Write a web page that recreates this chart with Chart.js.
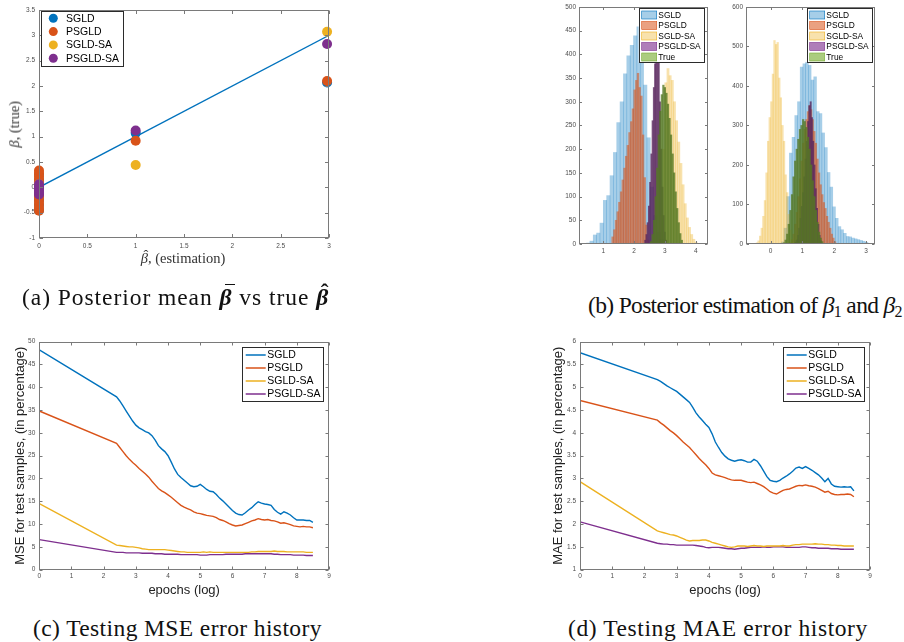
<!DOCTYPE html>
<html><head><meta charset="utf-8">
<script src="https://cdn.jsdelivr.net/npm/chart.js@4.4.1/dist/chart.umd.min.js"></script>
<style>
html,body{margin:0;padding:0;background:#fff;}
body{width:904px;height:642px;position:relative;overflow:hidden;}
canvas{position:absolute;}
.cap{position:absolute;font-family:"Liberation Serif","DejaVu Serif",serif;font-size:23.5px;color:#111;white-space:nowrap;line-height:1.15;}
.cap sub{font-size:68%;vertical-align:-0.22em;line-height:0;}
.acc{position:relative;display:inline-block;}
.acc .bar{position:absolute;left:0.24em;top:0.04em;width:0.42em;border-top:0.07em solid #111;}
.acc .hat{position:absolute;left:0.2em;top:-0.2em;font-style:normal;font-weight:normal;}
.atitle{position:absolute;font-family:"Liberation Serif","DejaVu Serif",serif;font-size:14.5px;color:#333;white-space:nowrap;line-height:1;}
</style></head><body>
<canvas id="ca" width="345" height="275" style="left:0px;top:0px"></canvas>
<canvas id="cbl" width="160" height="265" style="left:555px;top:0px"></canvas>
<canvas id="cbr" width="165" height="265" style="left:720px;top:0px"></canvas>
<canvas id="cc" width="345" height="285" style="left:0px;top:330px"></canvas>
<canvas id="cd" width="346" height="285" style="left:540px;top:330px"></canvas>
<div class="atitle" id="axt" data-cx="183" data-cy="258"><span class="acc"><i>β</i><span class="hat">ˆ</span></span>, (estimation)</div>
<div class="atitle" id="ayt" data-cx="14" data-cy="124" data-rot="1"><i>β</i>, (true)</div>
<div class="cap" data-x="22" data-w="308" data-cy="297">(a) Posterior mean <span class="acc"><b><i>β</i></b><span class="bar"></span></span> vs true <span class="acc"><b><i>β</i></b><span class="hat"><b>ˆ</b></span></span></div>
<div class="cap" data-x="588" data-w="314" data-cy="305">(b) Posterior estimation of <i>β</i><sub>1</sub> and <i>β</i><sub>2</sub></div>
<div class="cap" data-x="33" data-w="289" data-cy="628">(c) Testing MSE error history</div>
<div class="cap" data-x="568" data-w="300" data-cy="628">(d) Testing MAE error history</div>
<script>
// ---------------- DATA ----------------
const seriesNames = ['SGLD', 'PSGLD', 'SGLD-SA', 'PSGLD-SA'];
const histNames = ['SGLD', 'PSGLD', 'SGLD-SA', 'PSGLD-SA', 'True'];

// (a) posterior mean vs true
const aSGLDx = [0,0,0,0,0,0,0,0,1.0,2.98];
const aSGLDy = [-0.45,-0.35,-0.25,-0.15,-0.05,0.05,0.15,0.25,1.07,2.07];
const aPSGLDx = [0,0,0,0,0,0,0,0,0,0,0,0,0,0,1.0,2.98];
const aPSGLDy = [-0.46,-0.40,-0.33,-0.27,-0.20,-0.14,-0.08,-0.02,0.04,0.10,0.16,0.22,0.28,0.33,0.92,2.10];
const aSGLDSAx = [0,0,0,1.0,2.98];
const aSGLDSAy = [-0.08,0,0.06,0.44,3.07];
const aPSGLDSAx = [0,0,0,0,0,0,1.0,2.98];
const aPSGLDSAy = [-0.14,-0.10,-0.06,-0.02,0.02,0.06,1.12,2.83];
const aDiagX = [0,3];
const aDiagY = [0,3];
const aXTicks = [0,0.5,1,1.5,2,2.5,3];
const aYTicks = [-1,-0.5,0,0.5,1,1.5,2,2.5,3,3.5];

// (b) histograms of beta1 (left) and beta2 (right): bin centres and counts
const b1SGLDx = [0.508,0.617,0.726,0.835,0.944,1.053,1.162,1.271,1.380,1.489,1.598,1.707,1.816,1.925,2.034,2.143,2.252,2.361,2.470,2.579,2.688,2.797,2.906];
const b1SGLDy = [2,6,19,23,44,92,102,144,193,256,300,359,397,419,439,458,420,335,224,120,60,25,10];
const b1PSGLDx = [1.30,1.355,1.41,1.465,1.52,1.575,1.63,1.685,1.74,1.795,1.85,1.905,1.96,2.015,2.07,2.125,2.18,2.235,2.29,2.345,2.40,2.455];
const b1PSGLDy = [15,30,50,68,88,110,135,160,185,208,235,258,285,325,345,360,330,312,230,140,40,8];
const b1SGLDSAx = [2.82,2.89,2.96,3.03,3.10,3.17,3.24,3.31,3.38,3.45,3.52,3.59,3.66,3.73,3.80,3.87,3.94,4.01];
const b1SGLDSAy = [10,60,200,340,370,355,345,300,260,215,170,125,85,55,35,20,10,4];
const b1PSGLDSAx = [2.36,2.40,2.44,2.48,2.52,2.56,2.60,2.64,2.68,2.72,2.76,2.80,2.84,2.88,2.92,2.96,3.00,3.04];
const b1PSGLDSAy = [8,20,45,80,130,190,260,330,380,420,440,390,300,200,120,60,25,8];
const b1TrueX = [2.55,2.60,2.65,2.70,2.75,2.80,2.85,2.90,2.95,3.00,3.05,3.10,3.15,3.20,3.25,3.30,3.35,3.40,3.45,3.50,3.55];
const b1TrueY = [5,20,50,100,160,230,280,315,335,330,318,295,265,230,190,150,110,75,45,22,8];
const b1XTicks = [1,2,3,4];
const b1YTicks = [0,50,100,150,200,250,300,350,400,450,500];

const b2SGLDx = [0.38,0.465,0.55,0.635,0.72,0.805,0.89,0.975,1.06,1.145,1.23,1.315,1.40,1.485,1.57,1.655,1.74,1.825,1.91,1.995,2.08,2.165,2.25,2.335,2.42,2.505,2.59,2.675,2.76,2.845,2.93,3.015];
const b2SGLDy = [5,40,120,230,270,325,360,448,456,460,452,415,423,335,330,281,244,181,144,94,65,44,36,27,19,18,15,13,11,9,7,4];
const b2PSGLDx = [0.625,0.675,0.725,0.775,0.825,0.875,0.925,0.975,1.025,1.075,1.125,1.175,1.225,1.275,1.325,1.375,1.425,1.475,1.525,1.575,1.625,1.675,1.725,1.775,1.825,1.875,1.925,1.975,2.025];
const b2PSGLDy = [3,10,25,50,80,120,165,210,255,290,315,335,350,340,315,285,255,215,180,150,125,105,90,70,55,40,25,15,6];
const b2SGLDSAx = [-0.425,-0.375,-0.325,-0.275,-0.225,-0.175,-0.125,-0.075,-0.025,0.025,0.075,0.125,0.175,0.225,0.275,0.325,0.375,0.425,0.475,0.525,0.575,0.625,0.675,0.725];
const b2SGLDSAy = [3,8,20,40,70,110,180,260,320,360,430,515,505,510,420,370,300,260,175,130,75,35,12,4];
const b2PSGLDSAx = [0.78,0.82,0.86,0.90,0.94,0.98,1.02,1.06,1.10,1.14,1.18,1.22,1.26,1.30,1.34,1.38,1.42,1.46,1.50,1.54,1.58];
const b2PSGLDSAy = [4,10,22,40,65,95,130,170,215,260,310,350,360,320,260,200,140,90,50,22,8];
const b2TrueX = [0.425,0.475,0.525,0.575,0.625,0.675,0.725,0.775,0.825,0.875,0.925,0.975,1.025,1.075,1.125,1.175,1.225,1.275,1.325,1.375,1.425,1.475,1.525,1.575,1.625];
const b2TrueY = [3,10,25,50,85,125,170,210,240,265,290,300,315,310,295,270,240,200,160,120,85,55,30,15,6];
const b2XTicks = [0,1,2,3];
const b2YTicks = [0,100,200,300,400,500,600];

// (c),(d) error histories vs log epochs
const epochs = [0,2.4,2.5,2.6,2.7,2.8,2.9,3.0,3.1,3.2,3.3,3.4,3.5,3.6,3.7,3.8,3.9,4.0,4.1,4.2,4.3,4.4,4.5,4.6,4.7,4.8,4.9,5.0,5.1,5.2,5.3,5.4,5.5,5.6,5.7,5.8,5.9,6.0,6.1,6.2,6.3,6.4,6.5,6.6,6.7,6.8,6.9,7.0,7.1,7.2,7.3,7.4,7.5,7.6,7.7,7.8,7.9,8.0,8.1,8.2,8.3,8.4,8.5];
const mseSGLD = [48.2, 37.9,37.0,35.9,34.8,33.7,32.6,31.7, 31.1,30.7,30.3,30.0,29.4,28.4,27.2,26.5,25.9,25.0, 23.6,22.1,20.9,20.2,19.6,19.0,18.4,18.2,18.3,18.7, 18.2,17.6,17.2,17.1,16.5,15.7,15.1,14.4,13.7,13.0, 12.4,12.1,12.0,12.5,13.1,13.6,14.3,14.9,14.6,14.4, 14.3,14.1,13.2,12.6,12.2,12.7,12.4,12.0,11.4,10.9, 10.9,10.9,10.8,10.8,10.4];
const msePSGLD = [34.8, 27.7,26.8,25.9,25.0,24.2,23.5,22.9, 22.2,21.6,21.0,20.3,19.4,18.6,17.8,17.3,16.9,16.4, 15.9,15.3,14.7,14.1,13.7,13.4,13.1,12.7,12.4,12.3, 12.1,11.9,11.8,11.7,11.4,11.0,10.8,10.5,10.1,9.8, 9.6,9.7,9.8,10.1,10.4,10.7,10.9,11.2,11.0,10.9, 11.0,10.8,10.7,10.5,10.2,10.3,10.1,9.9,9.6,9.5, 9.4,9.5,9.4,9.4,9.2];
const mseSGLDSA = [14.5, 5.4,5.3,5.2,5.1,5.0,5.0,4.9, 4.8,4.6,4.5,4.4,4.4,4.4,4.4,4.4,4.4,4.3, 4.2,4.1,4.0,3.9,3.9,3.8,3.8,3.8,3.8,3.8, 3.9,3.8,3.9,3.8,3.8,3.8,3.8,3.8,3.8,3.8, 3.8,3.8,3.8,3.8,3.8,3.9,3.9,4.0,4.0,4.0, 4.0,4.0,4.1,4.0,4.0,4.0,3.9,3.9,3.9,3.9, 3.9,3.9,3.8,3.8,3.8];
const msePSGLDSA = [6.6, 3.8,3.8,3.8,3.7,3.7,3.7,3.7, 3.7,3.6,3.6,3.6,3.6,3.5,3.5,3.5,3.4,3.4, 3.4,3.4,3.4,3.3,3.3,3.3,3.3,3.3,3.3,3.2, 3.2,3.2,3.3,3.3,3.3,3.3,3.3,3.4,3.4,3.4, 3.4,3.4,3.4,3.5,3.5,3.5,3.5,3.5,3.5,3.5, 3.5,3.5,3.4,3.4,3.3,3.3,3.3,3.3,3.2,3.2, 3.2,3.2,3.1,3.1,3.1];
const maeSGLD = [5.76, 5.17,5.13,5.08,5.03,4.99,4.95,4.91, 4.85,4.79,4.73,4.67,4.56,4.44,4.35,4.27,4.19,4.12, 3.98,3.80,3.68,3.57,3.49,3.43,3.40,3.38,3.40,3.41, 3.39,3.36,3.36,3.42,3.38,3.28,3.16,3.04,2.96,2.94, 2.93,2.96,3.01,3.05,3.10,3.16,3.23,3.25,3.22,3.26, 3.22,3.18,3.13,3.08,3.01,2.93,3.00,2.88,2.83,2.82, 2.81,2.82,2.81,2.82,2.73];
const maePSGLD = [4.71, 4.28,4.22,4.17,4.11,4.05,4.00,3.94, 3.87,3.80,3.74,3.68,3.60,3.52,3.44,3.37,3.30,3.22, 3.12,3.08,3.06,3.04,3.02,2.99,2.97,2.96,2.96,2.96, 2.94,2.92,2.91,2.92,2.89,2.86,2.82,2.77,2.71,2.68, 2.66,2.70,2.74,2.76,2.77,2.80,2.83,2.85,2.84,2.86, 2.84,2.83,2.81,2.78,2.74,2.70,2.72,2.67,2.65,2.64, 2.65,2.65,2.66,2.65,2.60];
const maeSGLDSA = [2.93, 1.85,1.83,1.81,1.79,1.77,1.76,1.74, 1.71,1.68,1.65,1.63,1.64,1.64,1.64,1.65,1.65,1.63, 1.60,1.58,1.56,1.54,1.52,1.50,1.49,1.50,1.52,1.52, 1.52,1.51,1.52,1.53,1.52,1.52,1.51,1.52,1.52,1.52, 1.52,1.52,1.53,1.52,1.52,1.54,1.55,1.55,1.56,1.56, 1.56,1.56,1.57,1.56,1.56,1.55,1.55,1.54,1.54,1.53, 1.53,1.52,1.52,1.52,1.52];
const maePSGLDSA = [2.05, 1.58,1.57,1.56,1.56,1.55,1.55,1.54, 1.54,1.54,1.54,1.54,1.54,1.53,1.52,1.51,1.49,1.48, 1.49,1.49,1.49,1.48,1.47,1.46,1.46,1.45,1.46,1.47, 1.47,1.48,1.49,1.49,1.49,1.49,1.50,1.49,1.49,1.50, 1.50,1.50,1.50,1.49,1.49,1.49,1.49,1.49,1.50,1.50, 1.49,1.48,1.48,1.47,1.47,1.47,1.47,1.46,1.46,1.46, 1.45,1.45,1.45,1.45,1.45];
const cXTicks = [0,1,2,3,4,5,6,7,8,9];
const cYTicks = [0,5,10,15,20,25,30,35,40,45,50];
const dYTicks = [1,1.5,2,2.5,3,3.5,4,4.5,5,5.5,6];

// ---------------- STYLE / HELPERS ----------------
const COL = ['#0072BD', '#D95319', '#EDB120', '#7E2F8E', '#77AC30'];
// histogram face colours (narrow MATLAB bins look darker because of their edges)
const HFILL = ['rgba(0,114,189,0.35)', 'rgba(217,83,25,0.57)', 'rgba(237,177,32,0.37)', 'rgba(90,40,95,0.8)', 'rgba(85,120,35,0.78)'];
const HLEG = ['rgba(0,114,189,0.35)', 'rgba(217,83,25,0.55)', 'rgba(237,177,32,0.37)', 'rgba(126,47,142,0.62)', 'rgba(119,172,48,0.62)'];
const pts = (xs, ys) => xs.map((x, i) => ({x: x, y: ys[i]}));
const SANS = '"Liberation Sans", Arial, Helvetica, sans-serif';
Chart.defaults.font.family = SANS;
Chart.defaults.color = '#4d4d4d';

function fmt(v) { return String(Math.round(v * 1000) / 1000); }

function xAxis(min, max, ticks, h, fs, pad, title) {
  const o = {
    type: 'linear', position: 'bottom', min: min, max: max, offset: false,
    grid: {display: false, drawTicks: false, offset: false}, border: {display: false},
    ticks: {font: {size: fs}, color: '#4d4d4d', padding: pad, autoSkip: false, maxRotation: 0, callback: v => fmt(v)},
    afterBuildTicks: s => { s.ticks = ticks.map(v => ({value: v})); },
    afterFit: s => { s.height = h; }
  };
  if (title) o.title = title;
  return o;
}
function yAxis(min, max, ticks, w, fs, pad, title) {
  const o = {
    type: 'linear', position: 'left', min: min, max: max,
    grid: {display: false, drawTicks: false}, border: {display: false},
    ticks: {font: {size: fs}, color: '#4d4d4d', padding: pad, autoSkip: false, callback: v => fmt(v)},
    afterBuildTicks: s => { s.ticks = ticks.map(v => ({value: v})); },
    afterFit: s => { s.width = w; }
  };
  if (title) o.title = title;
  return o;
}

// MATLAB-like box with inward ticks on all four sides
const matlabBox = {
  id: 'matlabBox',
  afterDatasetsDraw(chart, args, o) {
    const ctx = chart.ctx, a = chart.chartArea;
    const xs = chart.scales.x, ys = chart.scales.y;
    const L = o.len || 3;
    const l = Math.round(a.left) + 0.5, r = Math.round(a.right) - 0.5;
    const t = Math.round(a.top) + 0.5, b = Math.round(a.bottom) - 0.5;
    ctx.save();
    ctx.strokeStyle = o.color || '#7a7a7a';
    ctx.lineWidth = 1;
    ctx.beginPath();
    xs.ticks.forEach(tk => {
      const p = Math.round(xs.getPixelForValue(tk.value)) + 0.5;
      ctx.moveTo(p, b); ctx.lineTo(p, b - L);
      ctx.moveTo(p, t); ctx.lineTo(p, t + L);
    });
    ys.ticks.forEach(tk => {
      const p = Math.round(ys.getPixelForValue(tk.value)) + 0.5;
      ctx.moveTo(l, p); ctx.lineTo(l + L, p);
      ctx.moveTo(r, p); ctx.lineTo(r - L, p);
    });
    ctx.stroke();
    ctx.strokeRect(l, t, r - l, b - t);
    ctx.restore();
  }
};

// legend box drawn inside the axes (opaque, like MATLAB)
const boxLegend = {
  id: 'boxLegend',
  afterDraw(chart, args, o) {
    if (!o || !o.show) return;
    const ctx = chart.ctx;
    const items = chart.data.datasets.filter(d => d.label);
    ctx.save();
    ctx.fillStyle = '#fff';
    ctx.fillRect(o.x, o.y, o.w, o.h);
    ctx.strokeStyle = '#2b2b2b';
    ctx.lineWidth = 1;
    ctx.strokeRect(Math.round(o.x) + 0.5, Math.round(o.y) + 0.5, Math.round(o.w), Math.round(o.h));
    ctx.font = o.size + 'px ' + SANS;
    ctx.textBaseline = 'middle';
    items.forEach((d, i) => {
      const cy = o.y0 + i * o.dy;
      if (o.marker === 'circle') {
        ctx.fillStyle = d.backgroundColor;
        ctx.beginPath(); ctx.arc(o.mx, cy, o.r, 0, Math.PI * 2); ctx.fill();
      } else if (o.marker === 'line') {
        ctx.strokeStyle = d.borderColor; ctx.lineWidth = 1.5;
        ctx.beginPath(); ctx.moveTo(o.mx, cy); ctx.lineTo(o.mx + o.mw, cy); ctx.stroke();
      } else {
        ctx.fillStyle = d.legendFill;
        ctx.fillRect(o.mx, cy - o.ph / 2, o.mw, o.ph);
        ctx.strokeStyle = d.legendEdge; ctx.lineWidth = 0.6;
        ctx.strokeRect(o.mx, cy - o.ph / 2, o.mw, o.ph);
      }
      ctx.fillStyle = '#000';
      ctx.fillText(d.label, o.tx, cy + 0.5);
    });
    ctx.restore();
  }
};

const baseOpts = { responsive: false, animation: false, devicePixelRatio: 1, events: [] };

// ---------------- (a) scatter ----------------
const aSeries = [[aSGLDx, aSGLDy], [aPSGLDx, aPSGLDy], [aSGLDSAx, aSGLDSAy], [aPSGLDSAx, aPSGLDSAy]];
new Chart(document.getElementById('ca'), {
  type: 'scatter',
  data: {
    datasets: aSeries.map((s, i) => ({
      label: seriesNames[i], data: pts(s[0], s[1]),
      backgroundColor: COL[i], borderColor: COL[i], borderWidth: 0,
      pointRadius: 5, pointHoverRadius: 5, order: 4 - i, clip: false
    })).concat([{
      type: 'line', data: pts(aDiagX, aDiagY), borderColor: COL[0], borderWidth: 1.3,
      pointRadius: 0, showLine: true, order: 6, fill: false
    }])
  },
  options: Object.assign({}, baseOpts, {
    layout: {padding: {left: 0, top: 10, right: 16, bottom: 0}},
    scales: {
      x: xAxis(0, 3, aXTicks, 37, 6.5, 4),
      y: yAxis(-1, 3.5, aYTicks, 39, 6.5, 4)
    },
    plugins: {
      legend: {display: false}, tooltip: {enabled: false},
      matlabBox: {len: 3.5},
      boxLegend: {show: true, marker: 'circle', x: 41, y: 11, w: 81.5, h: 55, y0: 18.3, dy: 13.3, mx: 53.3, r: 4.5, tx: 66, size: 10.5}
    }
  }),
  plugins: [matlabBox, boxLegend]
});

// ---------------- (b) histograms ----------------
function histChart(id, series, xmin, xmax, xt, ymax, yt, yw, padRight, legendX) {
  const axIds = ['x', 'x1', 'x2', 'x3', 'x4'];
  const scales = {};
  axIds.forEach((ax, k) => {
    if (k === 0) scales.x = xAxis(xmin, xmax, xt, 21, 6.5, 3);
    else scales[ax] = {type: 'linear', display: false, min: xmin, max: xmax, offset: false,
      grid: {offset: false}, afterBuildTicks: s => { s.ticks = []; }};
  });
  scales.y = yAxis(0, ymax, yt, yw, 6.5, 3);
  new Chart(document.getElementById(id), {
    type: 'bar',
    data: {
      datasets: series.map((s, i) => ({
        label: histNames[i], data: pts(s[0], s[1]), xAxisID: axIds[i],
        backgroundColor: HFILL[i], legendFill: HLEG[i], legendEdge: COL[i],
        borderWidth: 0, barPercentage: 1, categoryPercentage: 1, grouped: false,
        order: 4 - i
      }))
    },
    options: Object.assign({}, baseOpts, {
      layout: {padding: {left: 0, top: 4, right: padRight, bottom: 0}},
      scales: scales,
      plugins: {
        legend: {display: false}, tooltip: {enabled: false},
        matlabBox: {len: 2.5},
        boxLegend: {show: true, marker: 'patch', x: legendX, y: 8.3, w: 64.5, h: 54, y0: 15, dy: 10.5, mx: legendX + 3, mw: 15, ph: 8, tx: legendX + 19.6, size: 8.4}
      }
    }),
    plugins: [matlabBox, boxLegend]
  });
}
histChart('cbl', [[b1SGLDx, b1SGLDy], [b1PSGLDx, b1PSGLDy], [b1SGLDSAx, b1SGLDSAy], [b1PSGLDSAx, b1PSGLDSAy], [b1TrueX, b1TrueY]],
  0.208, 4.40, b1XTicks, 500, b1YTicks, 24, 7, 83.7);
histChart('cbr', [[b2SGLDx, b2SGLDy], [b2PSGLDx, b2PSGLDy], [b2SGLDSAx, b2SGLDSAy], [b2PSGLDSAx, b2PSGLDSAy], [b2TrueX, b2TrueY]],
  -0.77, 3.28, b2XTicks, 600, b2YTicks, 26, 10, 86.7);

// ---------------- (c),(d) error histories ----------------
function histLines(id, ys, ymin, ymax, yt, yw, ytitle, ytitlePad, legendX) {
  new Chart(document.getElementById(id), {
    type: 'line',
    data: {
      datasets: ys.map((v, i) => ({
        label: seriesNames[i], data: pts(epochs, v), borderColor: COL[i], backgroundColor: COL[i],
        borderWidth: 1.4, pointRadius: 0, tension: 0, fill: false, order: i
      }))
    },
    options: Object.assign({}, baseOpts, {
      layout: {padding: {left: 0, top: 11.7, right: 16, bottom: 0}},
      scales: {
        x: xAxis(0, 9, cXTicks, 45.3, 6.5, 3, {display: true, text: 'epochs (log)', color: '#222', font: {family: SANS, size: 13}, padding: {top: 0, bottom: 17.2}}),
        y: yAxis(ymin, ymax, yt, yw, 6.5, 4, {display: true, text: ytitle, color: '#222', font: {family: SANS, size: 13}, padding: {top: ytitlePad, bottom: 0}})
      },
      plugins: {
        legend: {display: false}, tooltip: {enabled: false},
        matlabBox: {len: 3},
        boxLegend: {show: true, marker: 'line', x: legendX, y: 16.7, w: 81, h: 54.3, y0: 25, dy: 13, mx: legendX + 3.4, mw: 20, tx: legendX + 25, size: 10.5}
      }
    }),
    plugins: [matlabBox, boxLegend]
  });
}
histLines('cc', [mseSGLD, msePSGLD, mseSGLDSA, msePSGLDSA], 0, 50, cYTicks, 39.3, 'MSE for test samples, (in percentage)', 12.2, 242.3);
histLines('cd', [maeSGLD, maePSGLD, maeSGLDSA, maePSGLDSA], 1, 6, dYTicks, 40, 'MAE for test samples, (in percentage)', 10.2, 243.3);

// ---------------- text placement ----------------
document.querySelectorAll('.cap').forEach(el => {
  el.style.left = el.dataset.x + 'px';
  const w0 = el.getBoundingClientRect().width;
  const n = el.textContent.length;
  el.style.letterSpacing = ((+el.dataset.w - w0) / n).toFixed(2) + 'px';
  const h = el.getBoundingClientRect().height;
  el.style.top = (+el.dataset.cy - h / 2).toFixed(1) + 'px';
});
document.querySelectorAll('.atitle').forEach(el => {
  const r = el.getBoundingClientRect();
  el.style.left = (+el.dataset.cx - r.width / 2).toFixed(1) + 'px';
  el.style.top = (+el.dataset.cy - r.height / 2).toFixed(1) + 'px';
  if (el.dataset.rot) el.style.transform = 'rotate(-90deg)';
});
</script>
</body></html>
